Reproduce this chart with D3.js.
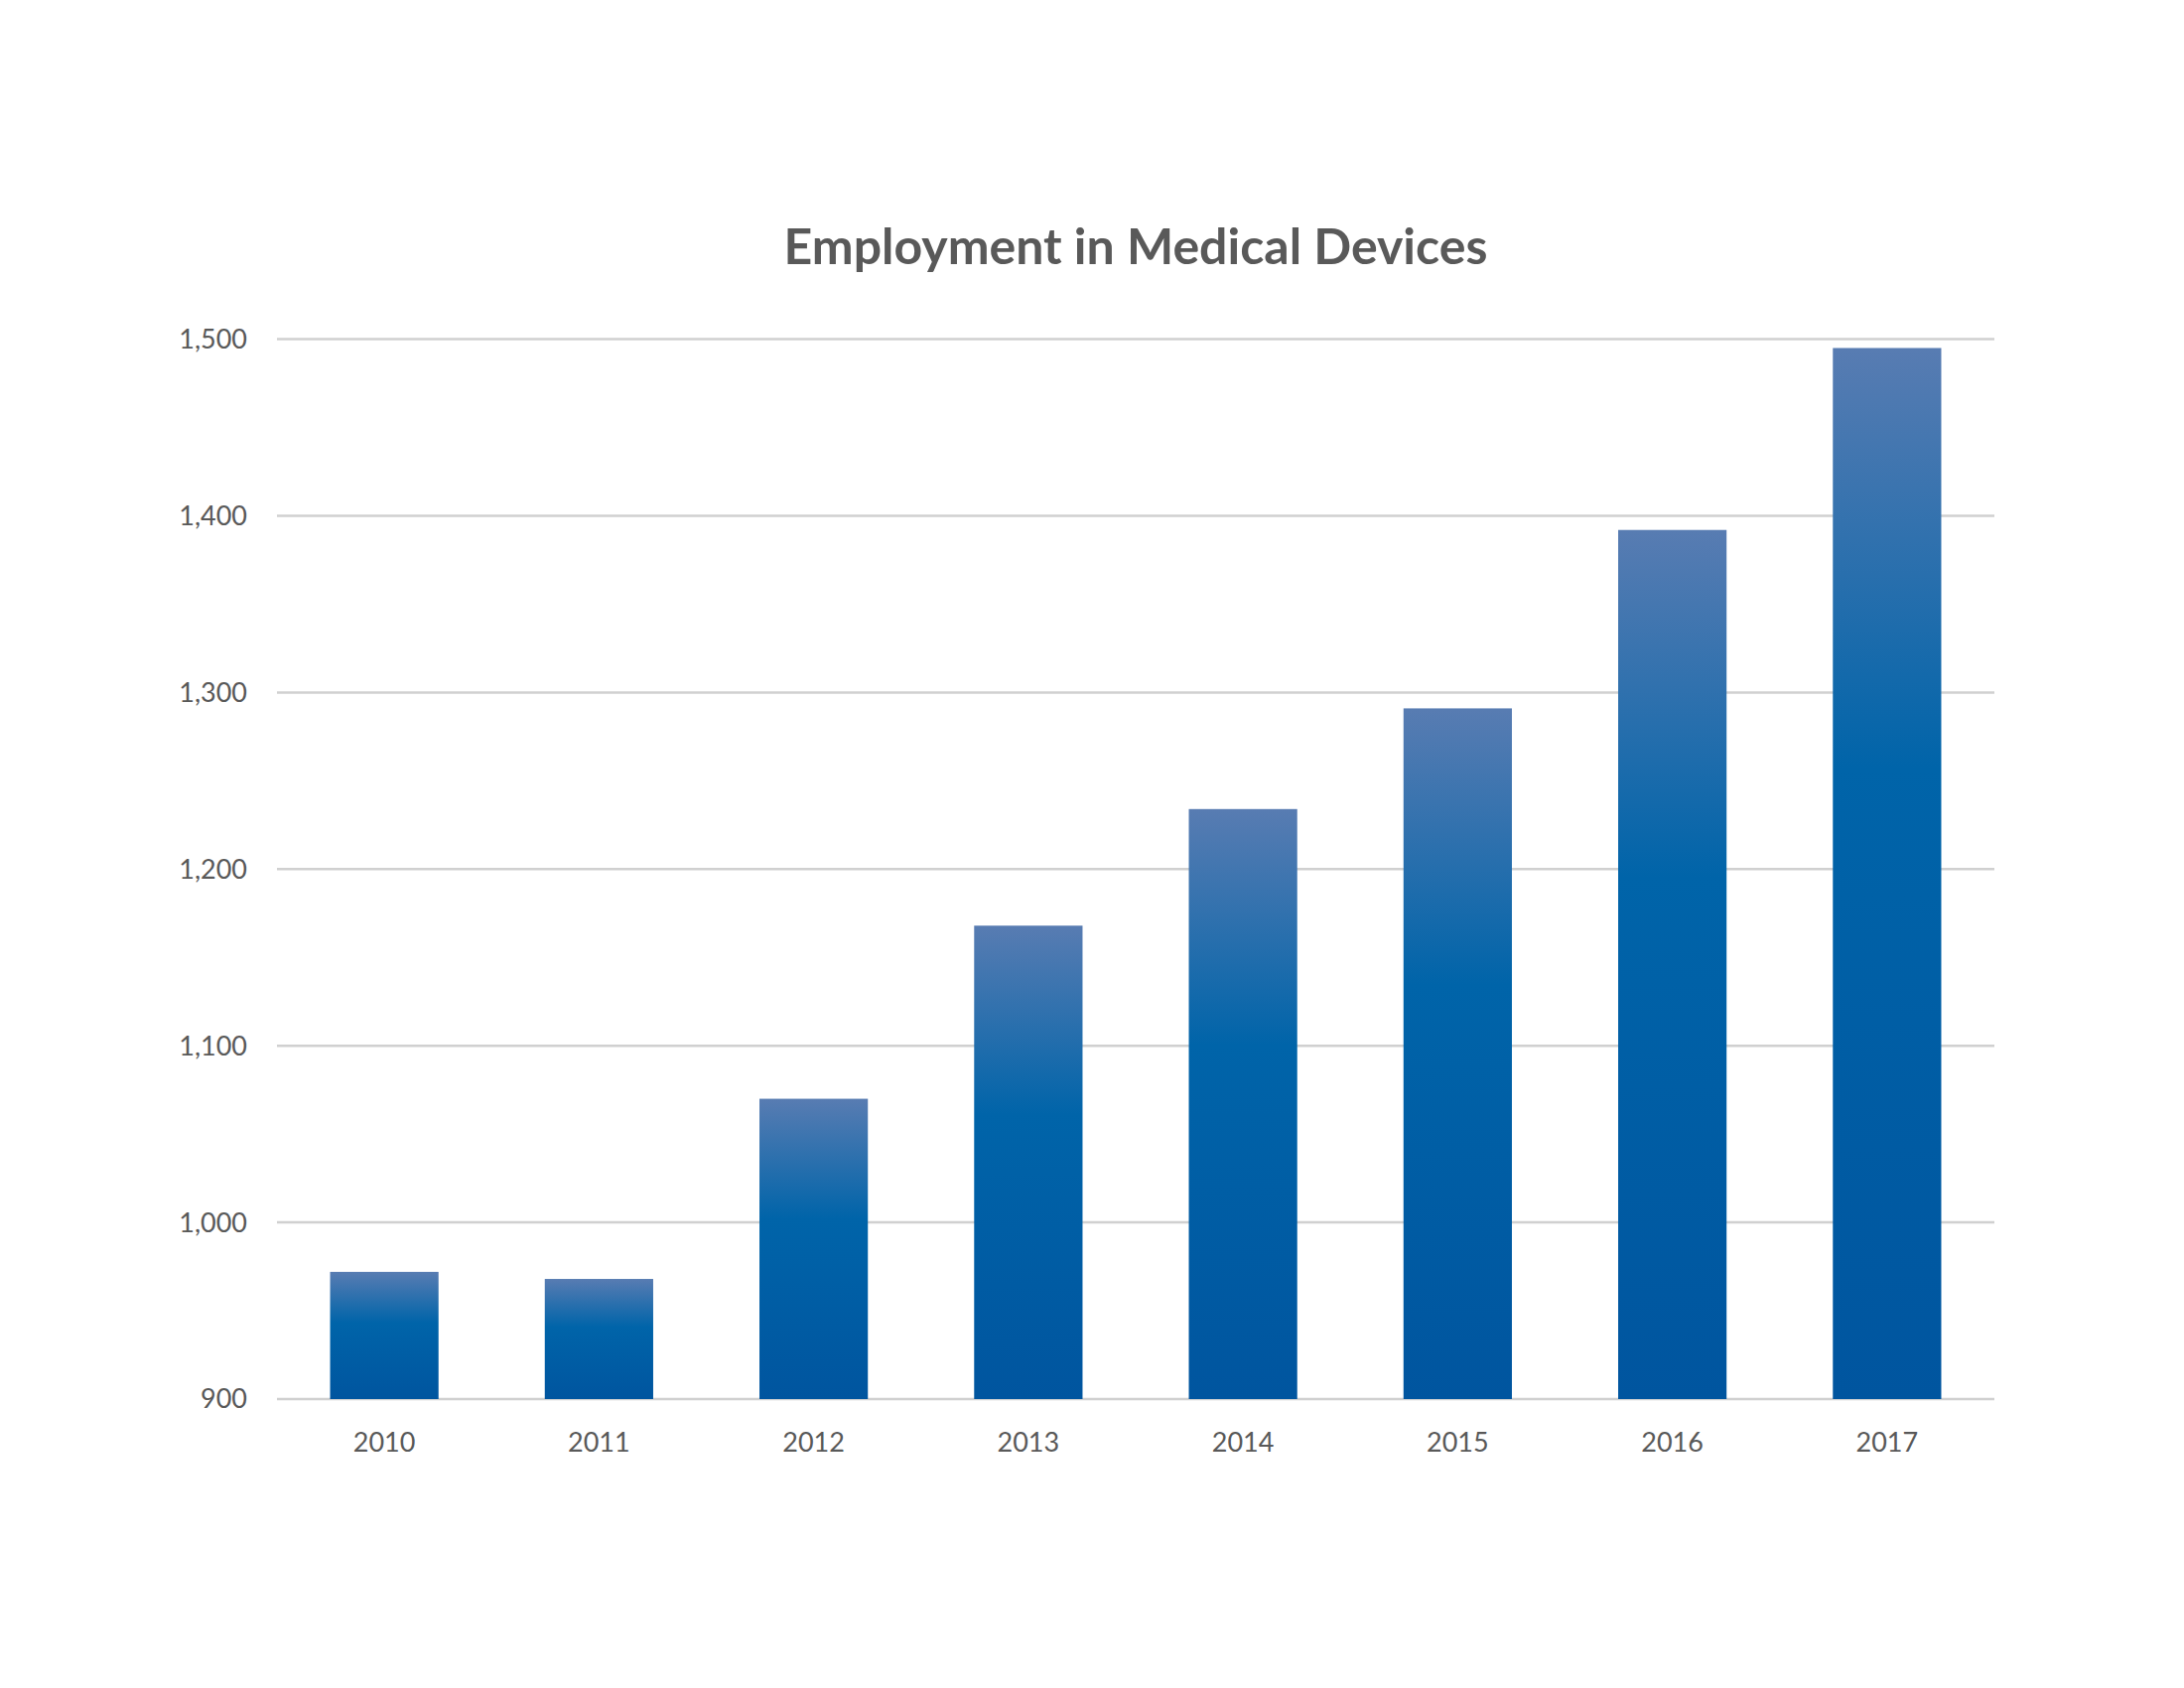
<!DOCTYPE html><html><head><meta charset="utf-8"><script src="https://cdn.jsdelivr.net/npm/d3@7"></script>
<style>body{margin:0;background:#fff}</style></head><body><svg id="c" width="2200" height="1700"></svg>
<script>
const years=["2010","2011","2012","2013","2014","2015","2016","2017"];
const employment=[972,968,1070,1168,1234,1291,1392,1495];
const yTicks=[900,1000,1100,1200,1300,1400,1500];
const svg=d3.select("#c");
const L=279,R=2009,T=341.6,B=1409;
const x=d3.scaleBand().domain(years).range([L,R]).paddingInner(0.495).paddingOuter(0.2475);
const y=d3.scaleLinear().domain([900,1500]).range([B,T]);
const g=svg.append("defs").append("linearGradient").attr("id","gr").attr("x1",0).attr("y1",0).attr("x2",0).attr("y2",1);
[[0,"#587cb2"],[0.4,"#0064a9"],[1,"#00559f"]].forEach(s=>g.append("stop").attr("offset",s[0]).attr("stop-color",s[1]));
const font="Lato, 'Open Sans', sans-serif";
svg.append("g").selectAll("line").data(yTicks).join("line")
 .attr("x1",L).attr("x2",R).attr("y1",d=>y(d)).attr("y2",d=>y(d)).attr("stroke","#d0d0d0").attr("stroke-width",2.5);
svg.append("g").selectAll("text").data(yTicks).join("text")
 .attr("x",L-30).attr("y",d=>y(d)).attr("dy","0.35em").attr("text-anchor","end")
 .attr("font-family",font).attr("font-size",27).attr("fill","#595959").text(d3.format(","));
svg.append("g").selectAll("rect").data(employment).join("rect")
 .attr("x",(d,i)=>x(years[i])).attr("width",x.bandwidth()).attr("y",d=>y(d)).attr("height",d=>y(900)-y(d)).attr("fill","url(#gr)");
svg.append("g").selectAll("text").data(years).join("text")
 .attr("x",d=>x(d)+x.bandwidth()/2).attr("y",B+44).attr("dy","0.35em").attr("text-anchor","middle")
 .attr("font-family",font).attr("font-size",27).attr("fill","#595959").text(d=>d);
svg.append("text").attr("x",1144).attr("y",248).attr("dy","0.35em").attr("text-anchor","middle")
 .attr("font-family",font).attr("font-weight","bold").attr("font-size",50).attr("fill","#595959").text("Employment in Medical Devices");
</script></body></html>
